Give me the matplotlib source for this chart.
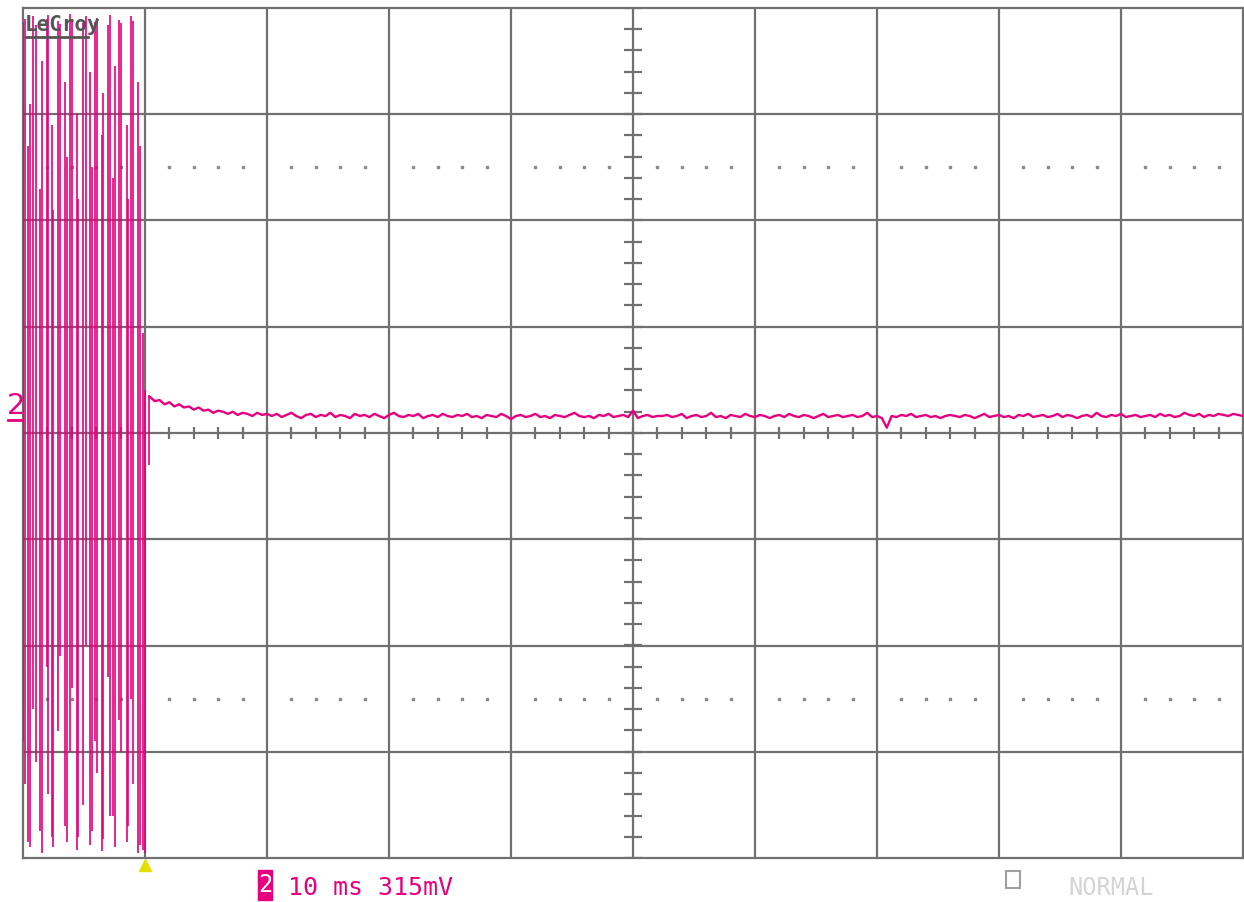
import numpy as np
import matplotlib.pyplot as plt
from matplotlib.patches import Rectangle
from matplotlib.lines import Line2D
from matplotlib.transforms import offset_copy

# scope setup: 10 ms/div, 10 x 8 divisions
time_div = 10
n_xdiv = 10
n_ydiv = 8
trig_t = 10.0

# burst before the trigger, drawn as per-column min/max strokes (t in ms, values in div)
burst_t = [0.04, 0.16, 0.84, 1.04, 1.94, 2.07, 2.89, 3.03, 3.85, 4.04,
           4.94, 5.14, 5.90, 6.04, 6.94, 7.13, 7.87, 8.03, 8.85, 9.04,
           0.43, 0.57, 1.39, 1.53, 2.35, 2.48, 3.44, 3.58, 4.40, 4.53,
           5.49, 5.63, 6.45, 6.58, 7.40, 7.54, 8.50, 8.63, 9.45, 9.59,
           9.86, 10.0, 10.29]
burst_hi = [3.86, 3.90, 3.92, 3.84, 3.90, 3.93, 3.88, 3.85, 3.94, 3.90,
            3.86, 3.92, 3.87, 3.91, 3.84, 3.93, 3.89, 3.86, 3.92, 3.88,
            2.70, 3.10, 2.30, 3.50, 2.90, 2.10, 3.30, 2.60, 3.00, 2.20,
            3.40, 2.50, 2.80, 3.20, 2.40, 3.45, 2.90, 2.20, 3.30, 2.70,
            0.94, 0.40, 0.36]
burst_lo = [-2.90, -3.30, -2.60, -3.10, -2.20, -3.40, -2.80, -2.10, -3.00, -2.40,
            -3.50, -2.00, -2.90, -3.20, -2.30, -3.60, -2.70, -3.00, -2.50, -3.30,
            -3.85, -3.90, -3.75, -3.95, -3.80, -3.90, -3.70, -3.85, -3.92, -3.80,
            -3.88, -3.75, -3.93, -3.82, -3.60, -3.90, -3.85, -3.70, -3.95, -3.88,
            -3.92, -3.95, -0.30]

# settled level after the trigger, one sample every 0.4 ms from 10.4 ms
tail_v = [0.34, 0.30, 0.31, 0.27, 0.29, 0.25, 0.27, 0.24, 0.25, 0.22,
          0.24, 0.21, 0.22, 0.19, 0.21, 0.20, 0.18, 0.20, 0.17, 0.19,
          0.18, 0.16, 0.19, 0.17, 0.18,
          0.16, 0.18, 0.15, 0.17, 0.19, 0.16, 0.14, 0.17, 0.18, 0.15, 0.17, 0.16, 0.19, 0.15, 0.17, 0.16, 0.14, 0.18, 0.16, 0.17,
          0.15, 0.18, 0.16, 0.14, 0.17, 0.19, 0.16, 0.15, 0.17, 0.16, 0.18, 0.14, 0.16, 0.17, 0.15, 0.18, 0.16, 0.15, 0.17, 0.16,
          0.18, 0.15, 0.16, 0.14, 0.17, 0.16, 0.15, 0.18, 0.16, 0.13, 0.16, 0.17, 0.15, 0.16, 0.18, 0.15, 0.16, 0.14, 0.17, 0.16,
          0.15, 0.17, 0.19, 0.16, 0.15, 0.16, 0.14, 0.17, 0.16, 0.18, 0.15, 0.16, 0.17, 0.15, 0.21, 0.14, 0.16, 0.17, 0.15, 0.16,
          0.16, 0.17, 0.15, 0.16, 0.18, 0.14, 0.16, 0.17, 0.15, 0.16, 0.19, 0.15, 0.16, 0.14, 0.17, 0.16, 0.15, 0.18, 0.16, 0.15,
          0.17, 0.16, 0.14, 0.16, 0.17, 0.15, 0.18, 0.16, 0.15, 0.17, 0.16, 0.14, 0.16, 0.18, 0.15, 0.16, 0.17, 0.15, 0.16, 0.17,
          0.15, 0.16, 0.19, 0.15, 0.16, 0.14, 0.05, 0.16, 0.15, 0.17, 0.16, 0.18, 0.15, 0.16, 0.17, 0.15, 0.16, 0.14, 0.16, 0.17,
          0.16, 0.15, 0.17, 0.16, 0.14, 0.16, 0.18, 0.15, 0.16, 0.17, 0.15, 0.16, 0.14, 0.17, 0.16, 0.18, 0.15, 0.16, 0.17, 0.15,
          0.16, 0.18, 0.15, 0.17, 0.16, 0.14, 0.16, 0.17, 0.15, 0.19, 0.16, 0.15, 0.17, 0.16, 0.18, 0.15, 0.16, 0.17, 0.15, 0.16,
          0.17, 0.15, 0.18, 0.16, 0.17, 0.15, 0.16, 0.19, 0.17, 0.16, 0.18, 0.15, 0.17, 0.16, 0.18, 0.17, 0.16, 0.18, 0.17, 0.16]
tail_t = 10.4 + 0.4 * np.arange(len(tail_v))

trace_color = '#e6007e'
grid_color = '#707070'

fig = plt.figure(figsize=(12.44, 9.02), dpi=100)
ax = fig.add_axes([23 / 1244, 44 / 902, 1220 / 1244, 850 / 902])
xmax = n_xdiv * time_div
ax.set_xlim(0, xmax)
ax.set_ylim(-n_ydiv / 2, n_ydiv / 2)
ax.set_xticks([])
ax.set_yticks([])
for s in ax.spines.values():
    s.set_color(grid_color)
    s.set_linewidth(1.6)

# graticule
for k in range(1, n_xdiv):
    ax.axvline(k * time_div, color=grid_color, lw=1.6, zorder=1)
for k in range(-n_ydiv // 2 + 1, n_ydiv // 2):
    ax.axhline(k, color=grid_color, lw=1.6, zorder=1)

# minor ticks on centre axes
xt = np.arange(0, xmax + 0.01, time_div / 5)
ax.vlines(xt, -0.06, 0.06, color=grid_color, lw=1.6, zorder=1)
yt = np.arange(-4, 4.01, 0.2)
cx = xmax / 2
ax.hlines(yt, cx - 0.7, cx + 0.7, color=grid_color, lw=1.6, zorder=1)

# dotted lines at +/-2.5 div
dots = [x for x in xt if abs(x % time_div) > 0.01 and abs(x % time_div - time_div) > 0.01]
for yd in (-2.5, 2.5):
    ax.plot(dots, [yd] * len(dots), ls='none', marker='s', ms=1.6, color='#8a8a8a', zorder=1)

# trace
ax.vlines(burst_t, burst_lo, burst_hi, color=trace_color, lw=1.2, zorder=3)
ax.plot(tail_t, tail_v, color=trace_color, lw=1.7, zorder=3)

# trigger marker
tr = offset_copy(ax.transData, fig=fig, x=0, y=-5, units='points')
ax.plot([trig_t], [-4], marker='^', ms=9, color='#e6e000', mec='#e6e000',
        transform=tr, clip_on=False, zorder=5)

# labels
fig.text(25 / 1244, 1 - 31 / 902, 'LeCroy', fontsize=15, fontweight='bold',
         family='DejaVu Sans Mono', color='#555555')
fig.add_artist(Line2D([26 / 1244, 88 / 1244], [1 - 37 / 902] * 2, color='#555555', lw=2))

fig.text(7 / 1244, 1 - 414 / 902, '2', fontsize=21, color=trace_color, family='DejaVu Sans')
fig.add_artist(Line2D([8 / 1244, 22 / 1244], [1 - 420 / 902] * 2, color=trace_color, lw=2))

fig.add_artist(Rectangle((258 / 1244, 1 - 900 / 902), 14 / 1244, 30 / 902,
                         transform=fig.transFigure, color=trace_color))
fig.text(265 / 1244, 1 - 885 / 902, '2', fontsize=17, color='white', family='DejaVu Sans Mono',
         ha='center', va='center')
fig.text(288 / 1244, 1 - 895 / 902, '10 ms 315mV', fontsize=18, color=trace_color,
         family='DejaVu Sans Mono')
fig.add_artist(Rectangle((1006 / 1244, 1 - 888 / 902), 14 / 1244, 17 / 902,
                         transform=fig.transFigure, fill=False, ec='#a0a0a0', lw=1.5))
fig.text(1068 / 1244, 1 - 895 / 902, 'NORMAL', fontsize=17, color='#d4d4d4',
         family='DejaVu Sans Mono')

fig.savefig('out.png', dpi=100, facecolor='white')
